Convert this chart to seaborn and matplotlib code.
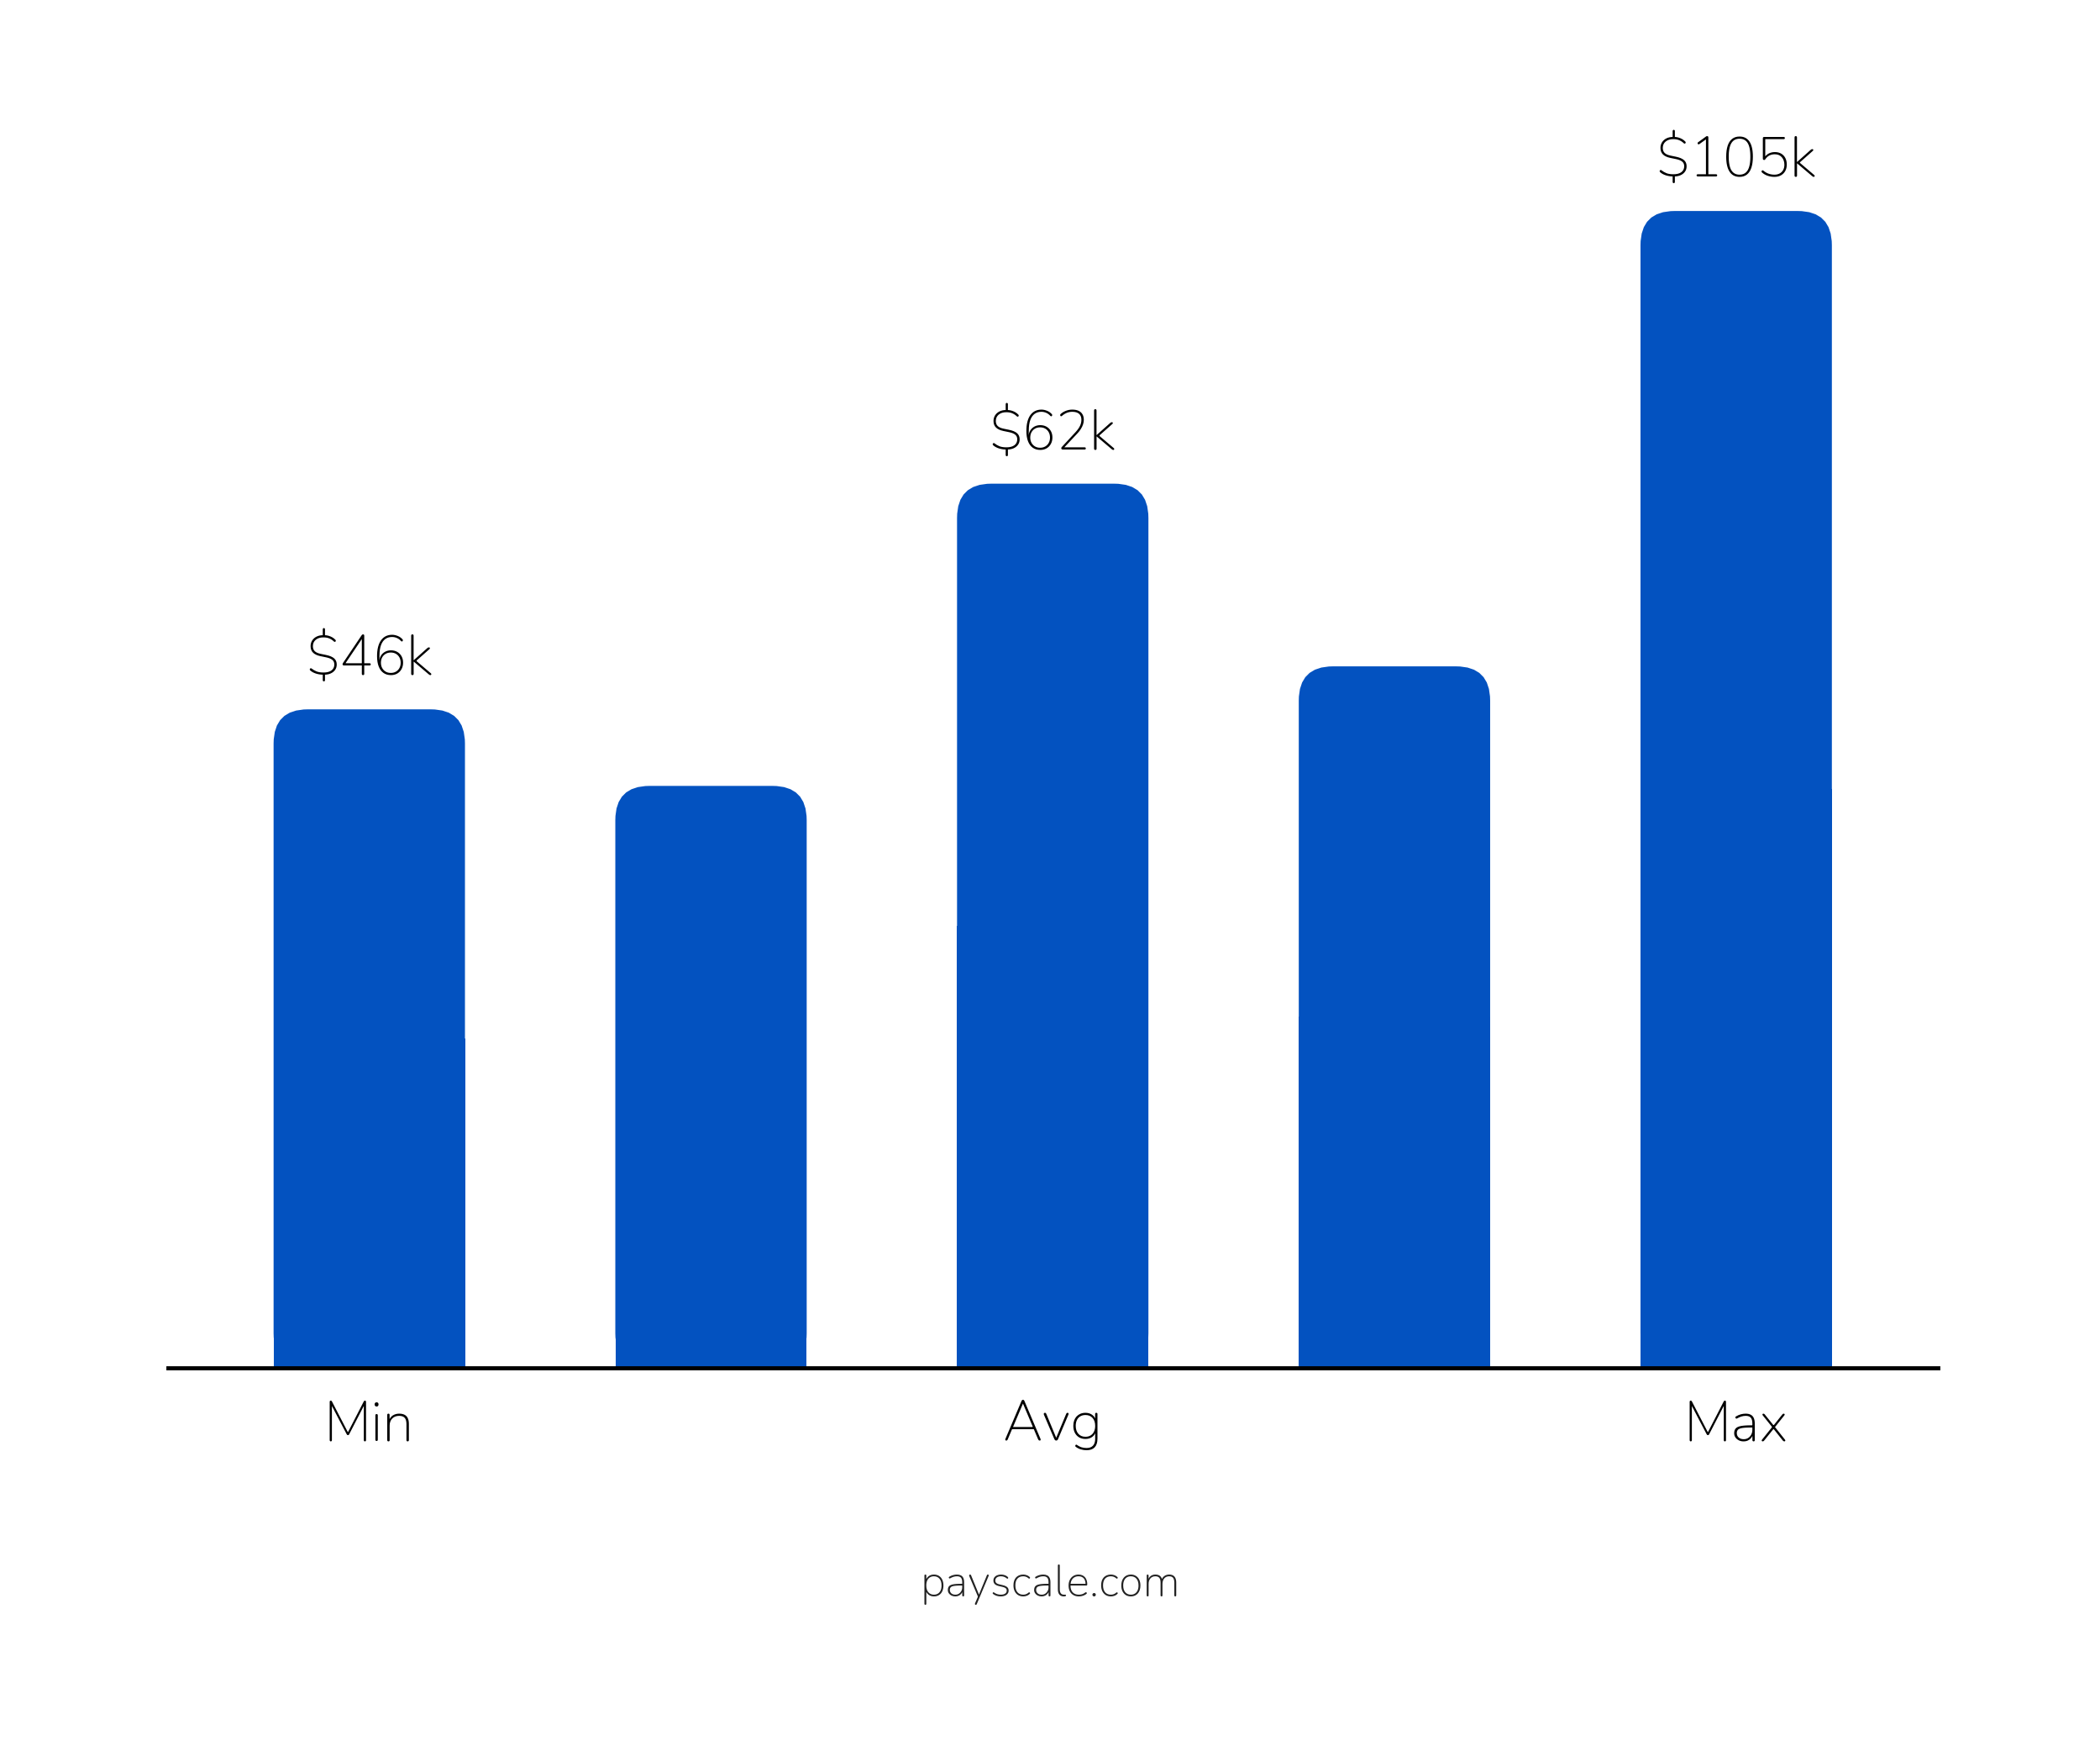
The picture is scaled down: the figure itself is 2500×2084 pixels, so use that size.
import seaborn as sns
import matplotlib.pyplot as plt
import pandas as pd
from matplotlib.patches import FancyBboxPatch, Rectangle

# bar heights (arbitrary units), labels as printed
positions = ["p1", "p2", "p3", "p4", "p5"]
heights = [490, 433, 658, 522, 861]
tick_text = ["Min", "", "Avg", "", "Max"]
value_text = ["$46k", "", "$62k", "", "$105k"]

blue = "#0352C0"
sns.set_theme(style="white")
plt.rcParams["font.family"] = ["Nunito", "Lato", "DejaVu Sans"]

fig = plt.figure(figsize=(25, 20.84), dpi=100)
ax = fig.add_axes([0.08, 0.219, 0.8426, 0.6605])
df = pd.DataFrame({"pos": positions, "h": heights})
sns.barplot(data=df, x="pos", y="h", color=blue, width=0.56, saturation=1, ax=ax)
ax.set_xlim(-0.589, 4.589)
ax.set_ylim(0, 861)

# swap plain bars for bars with rounded top corners
fig.canvas.draw()
px_x = ax.transData.transform([(1, 0)])[0][0] - ax.transData.transform([(0, 0)])[0][0]
px_y = ax.transData.transform([(0, 1)])[0][1] - ax.transData.transform([(0, 0)])[0][1]
aspect = px_x / px_y
for p in list(ax.patches):
    x, w, h = p.get_x(), p.get_width(), p.get_height()
    p.remove()
    r = 0.1
    ax.add_patch(FancyBboxPatch((x, 0), w, h, boxstyle=f"round,pad=0,rounding_size={r}",
                                mutation_aspect=aspect, fc=blue, ec="none", clip_on=False))
    ax.add_patch(Rectangle((x, 0), w, h * 0.5, fc=blue, ec="none"))

for i, (h, t) in enumerate(zip(heights, value_text)):
    if t:
        ax.text(i, h + 18, t, ha="center", va="bottom", fontsize=48, fontweight="bold",
                color="black", clip_on=False)

sns.despine(ax=ax, left=True)
ax.spines["bottom"].set_color("black")
ax.spines["bottom"].set_linewidth(3.5)
ax.set_yticks([])
ax.set_xticks(range(5))
ax.set_xticklabels(tick_text, fontsize=48, fontweight="bold", color="black")
ax.tick_params(axis="x", length=0, pad=28)
ax.set_xlabel("")
ax.set_ylabel("")

fig.text(0.5, 0.095, "payscale.com", ha="center", va="center", fontsize=38, color="#222222")
fig.savefig("out.png", dpi=100, facecolor="white")
